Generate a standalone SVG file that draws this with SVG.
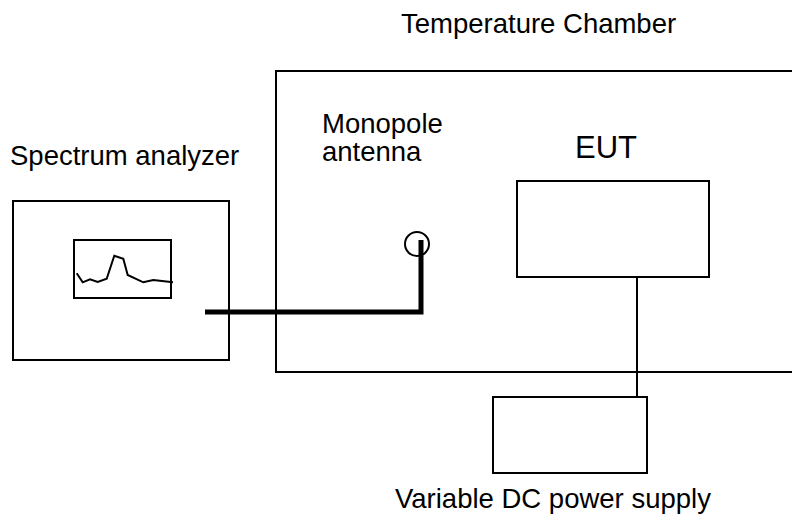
<svg xmlns="http://www.w3.org/2000/svg" width="792" height="519" viewBox="0 0 792 519">
<style>
.box{fill:none;stroke:#000;stroke-width:2}
.lbl{font-family:"Liberation Sans",Arial,sans-serif;font-size:27.5px;fill:#000}
.wire{fill:none;stroke:#000;stroke-width:2}
.cable{fill:none;stroke:#000;stroke-width:5}
</style>
<rect width="792" height="519" fill="#fff"/>
<g id="chamber">
<rect class="box" x="276" y="71" width="540" height="301"/>
<text class="lbl" x="401" y="33">Temperature Chamber</text>
</g>
<g id="spectrum-analyzer">
<rect class="box" x="13" y="201" width="216" height="159"/>
<rect class="box" x="74" y="240" width="97" height="58"/>
<polyline fill="none" stroke="#000" stroke-width="2" points="76.7,273.3 82.7,282.3 90,279.3 97.7,282 106.7,278.7 114.3,255.7 123.3,258.7 127.7,275 143.3,282.3 153.3,280 173,282.3"/>
<text class="lbl" x="10" y="165">Spectrum analyzer</text>
</g>
<g id="antenna">
<circle class="box" cx="417" cy="244" r="12"/>
<text class="lbl" x="322" y="133">Monopole</text>
<text class="lbl" x="322" y="161">antenna</text>
</g>
<g id="eut">
<rect class="box" x="517" y="181" width="192" height="96"/>
<text class="lbl" x="575" y="158" style="font-size:31px">EUT</text>
</g>
<g id="power-supply">
<rect class="box" x="493" y="397" width="154" height="76"/>
<text class="lbl" x="395" y="508">Variable DC power supply</text>
</g>
<g id="connectors">
<path class="cable" d="M205,312 H421 V240"/>
<path class="wire" d="M637,277 V397"/>
</g>
</svg>
